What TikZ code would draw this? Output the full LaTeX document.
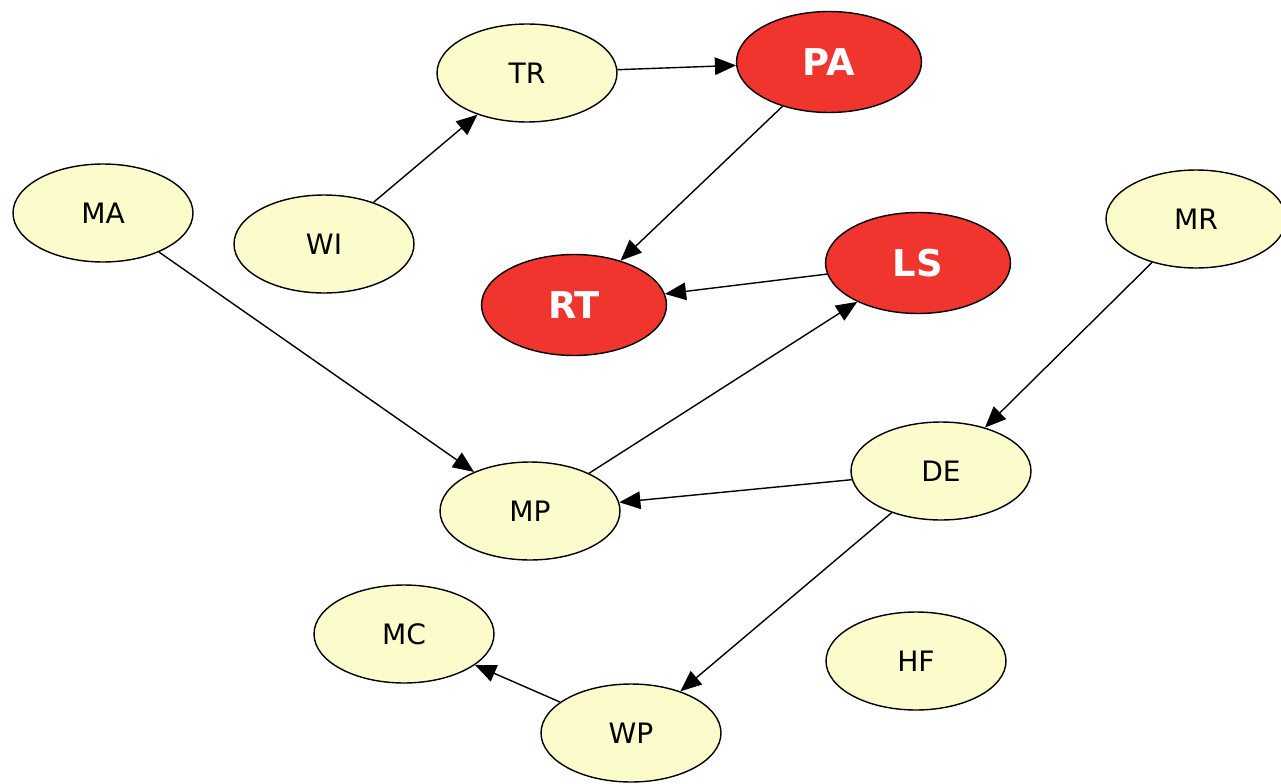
\documentclass[tikz,border=0pt]{standalone}
\usepackage{fontspec}
\setmainfont{DejaVu Sans}
\usepackage{xcolor}
\usetikzlibrary{arrows.meta,shapes.geometric}
\definecolor{nodeyellow}{RGB}{252,251,204}
\definecolor{nodered}{RGB}{240,52,46}

\begin{document}
\begin{tikzpicture}[x=0.02cm,y=-0.02cm,
    plain/.style={ellipse,draw=black,line width=0.8pt,fill=nodeyellow,
        minimum width=3.6cm,minimum height=1.96cm,inner sep=0pt,
        font=\fontsize{16}{16}\selectfont},
    hot/.style={plain,fill=nodered,text=white,minimum width=3.7cm,minimum height=2.02cm,
        font=\fontsize{21}{21}\selectfont\bfseries},
    link/.style={-{Triangle[length=12pt,width=10pt]},line width=0.8pt,black}]
    \useasboundingbox (0,0) rectangle (1281,784);
    % Nodes
    \node[plain] (TR) at (527,73) {TR};
    \node[hot]   (PA) at (829,62) {PA};
    \node[plain] (MA) at (103,213) {MA};
    \node[plain] (WI) at (324,244) {WI};
    \node[hot]   (RT) at (574,305) {RT};
    \node[hot]   (LS) at (918,263) {LS};
    \node[plain] (MR) at (1196,219) {MR};
    \node[plain] (DE) at (941,471) {DE};
    \node[plain] (MP) at (530,511) {MP};
    \node[plain] (MC) at (404,634) {MC};
    \node[plain] (HF) at (916,661) {HF};
    \node[plain] (WP) at (631,733) {WP};
    % Links
    \draw[link] (WI) -- (TR);
    \draw[link] (TR) -- (PA);
    \draw[link] (PA) -- (RT);
    \draw[link] (LS) -- (RT);
    \draw[link] (MP) -- (LS);
    \draw[link] (MA) -- (MP);
    \draw[link] (MR) -- (DE);
    \draw[link] (DE) -- (MP);
    \draw[link] (DE) -- (WP);
    \draw[link] (WP) -- (MC);
\end{tikzpicture}
\end{document}
